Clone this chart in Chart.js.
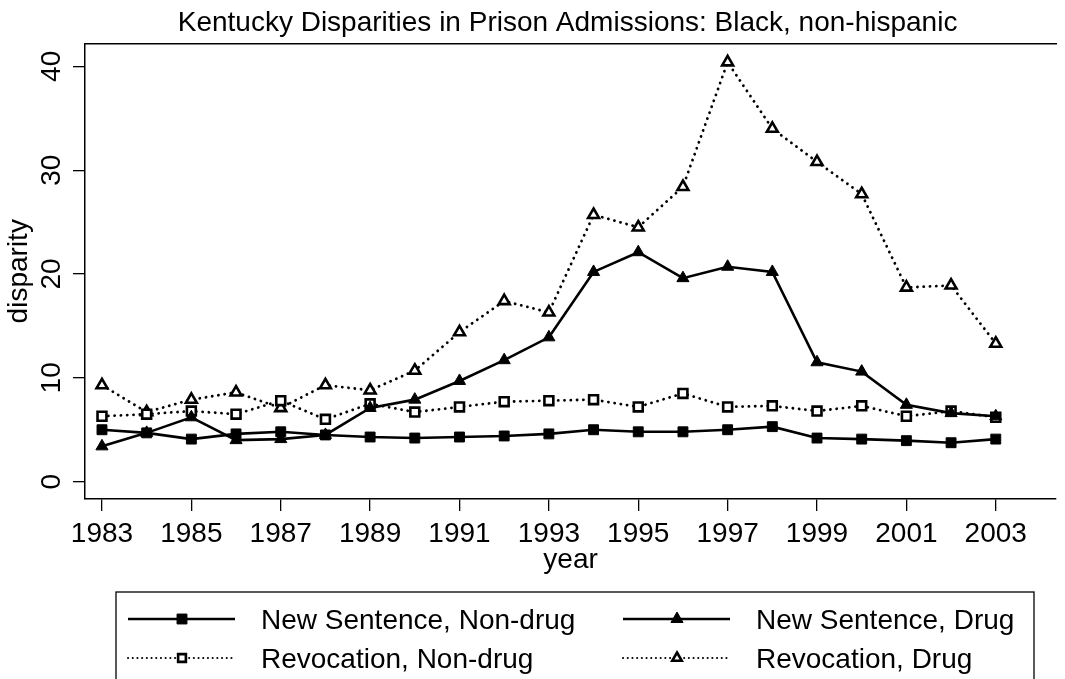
<!DOCTYPE html>
<html>
<head>
<meta charset="utf-8">
<script src="https://cdn.jsdelivr.net/npm/chart.js@4"></script>
<style>
    html, body { margin: 0; padding: 0; background: #fff; }
    #wrap { width: 1065px; height: 679px; }
</style>
</head>
<body>
<div id="wrap"><canvas id="chLine" width="1065" height="679"></canvas></div>
<script>
var years = [1983, 1984, 1985, 1986, 1987, 1988, 1989, 1990, 1991, 1992, 1993,
             1994, 1995, 1996, 1997, 1998, 1999, 2000, 2001, 2002, 2003];
var newNonDrug = [5.0, 4.7, 4.1, 4.6, 4.8, 4.5, 4.3, 4.2, 4.3, 4.4, 4.6,
                  5.0, 4.8, 4.8, 5.0, 5.3, 4.2, 4.1, 3.95, 3.75, 4.1];
var newDrug = [3.4, 4.7, 6.2, 4.0, 4.1, 4.5, 7.1, 7.9, 9.7, 11.7, 13.9,
               20.2, 22.1, 19.6, 20.7, 20.2, 11.5, 10.6, 7.4, 6.6, 6.3];
var revNonDrug = [6.3, 6.5, 6.8, 6.5, 7.8, 6.0, 7.5, 6.7, 7.2, 7.7, 7.8,
                  7.9, 7.2, 8.5, 7.2, 7.3, 6.8, 7.3, 6.3, 6.8, 6.2];
var revDrug = [9.3, 6.7, 7.9, 8.6, 7.1, 9.3, 8.8, 10.7, 14.4, 17.4, 16.3,
               25.7, 24.5, 28.4, 40.4, 34.0, 30.8, 27.7, 18.7, 18.9, 13.3];

var xTicks = [1983, 1985, 1987, 1989, 1991, 1993, 1995, 1997, 1999, 2001, 2003];
var yTicks = [0, 10, 20, 30, 40];

var chartTitle = 'Kentucky Disparities in Prison Admissions: Black, non-hispanic';
var seriesNames = ['New Sentence, Non-drug', 'New Sentence, Drug', 'Revocation, Non-drug', 'Revocation, Drug'];

var FONT = 'Liberation Sans, Arial, Helvetica, sans-serif';
var FSIZE = 28;

function pts(arr) {
    return years.map(function (yr, i) { return { x: yr, y: arr[i] }; });
}

function series(label, arr, style, filled, dotted) {
    return {
        label: label,
        data: pts(arr),
        borderColor: '#000',
        borderWidth: dotted ? 2.8 : 2.6,
        borderDash: dotted ? [0.1, 6.2] : [],
        borderCapStyle: dotted ? 'round' : 'butt',
        pointStyle: style,
        pointRadius: filled ? 7 : 6.3,
        pointBorderWidth: filled ? 1 : 2.6,
        pointBorderColor: '#000',
        pointBackgroundColor: filled ? '#000' : '#fff',
        tension: 0,
        fill: false
    };
}

// title + legend box drawn on the canvas
var extras = {
    id: 'extras',
    afterDraw: function (chart) {
        var ctx = chart.ctx;
        var area = chart.chartArea;
        ctx.save();
        ctx.fillStyle = '#000';
        ctx.font = FSIZE + 'px ' + FONT;
        ctx.textAlign = 'center';
        ctx.textBaseline = 'middle';
        ctx.fillText(chartTitle, (area.left + area.right) / 2 - 3, 23.6);

        // legend frame
        ctx.strokeStyle = '#000';
        ctx.lineWidth = 1.3;
        ctx.strokeRect(116, 592, 918, 100);

        var cols = [128, 623];
        var rows = [619, 658];
        chart.data.datasets.forEach(function (ds, i) {
            var x0 = cols[i % 2], y0 = rows[Math.floor(i / 2)];
            var dotted = ds.borderDash.length > 0;
            ctx.save();
            ctx.strokeStyle = '#000';
            ctx.lineWidth = dotted ? 2 : 2.6;
            ctx.lineCap = dotted ? 'round' : 'butt';
            ctx.setLineDash(dotted ? [0.1, 4.6] : []);
            ctx.beginPath();
            ctx.moveTo(x0, y0);
            ctx.lineTo(x0 + 107, y0);
            ctx.stroke();
            ctx.restore();

            ctx.save();
            ctx.fillStyle = ds.pointBackgroundColor;
            ctx.strokeStyle = '#000';
            ctx.lineWidth = ds.pointBorderWidth;
            Chart.helpers.drawPoint(ctx, {
                pointStyle: ds.pointStyle,
                radius: dotted ? 5.5 : 7,
                borderWidth: ds.pointBorderWidth
            }, x0 + 54, y0);
            ctx.restore();

            ctx.fillStyle = '#000';
            ctx.textAlign = 'left';
            ctx.textBaseline = 'middle';
            ctx.font = FSIZE + 'px ' + FONT;
            ctx.fillText(ds.label, x0 + 133, y0 + 2);
        });
        ctx.restore();
    }
};

var chLine = document.getElementById('chLine');
new Chart(chLine, {
    type: 'line',
    data: {
        datasets: [
            series(seriesNames[0], newNonDrug, 'rect', true, false),
            series(seriesNames[1], newDrug, 'triangle', true, false),
            series(seriesNames[2], revNonDrug, 'rect', false, true),
            series(seriesNames[3], revDrug, 'triangle', false, true)
        ]
    },
    options: {
        responsive: false,
        animation: false,
        layout: { padding: { top: 43.5, bottom: 102, left: 0, right: 0 } },
        plugins: {
            legend: { display: false },
            title: { display: false },
            tooltip: { enabled: false }
        },
        scales: {
            x: {
                type: 'linear',
                position: 'bottom',
                min: 1982.62,
                max: 2004.35,
                afterBuildTicks: function (scale) {
                    scale.ticks = xTicks.map(function (v) { return { value: v }; });
                },
                afterFit: function (scale) { scale.height = 78; },
                border: { display: true, color: '#000', width: 1.5 },
                grid: { drawOnChartArea: false, drawTicks: true, tickLength: 12, tickColor: '#000', lineWidth: 1.3 },
                ticks: {
                    padding: 6,
                    color: '#000',
                    maxRotation: 0,
                    autoSkip: false,
                    font: { family: FONT, size: FSIZE },
                    callback: function (v) { return String(v); }
                },
                title: {
                    display: true,
                    text: 'year',
                    color: '#000',
                    padding: 0,
                    font: { family: FONT, size: FSIZE }
                }
            },
            x2: {
                type: 'linear',
                position: 'top',
                min: 1982.62,
                max: 2004.35,
                afterFit: function (scale) { scale.height = 0; },
                border: { display: true, color: '#000', width: 1.5 },
                grid: { display: false },
                ticks: { display: false }
            },
            y: {
                type: 'linear',
                position: 'left',
                min: -1.67,
                max: 42.2,
                afterBuildTicks: function (scale) {
                    scale.ticks = yTicks.map(function (v) { return { value: v }; });
                },
                afterFit: function (scale) { scale.width = 85; },
                border: { display: true, color: '#000', width: 1.5 },
                grid: { drawOnChartArea: false, drawTicks: true, tickLength: 12, tickColor: '#000', lineWidth: 1.3 },
                ticks: {
                    padding: 5,
                    color: '#000',
                    minRotation: 90,
                    maxRotation: 90,
                    crossAlign: 'center',
                    font: { family: FONT, size: FSIZE }
                },
                title: {
                    display: true,
                    text: 'disparity',
                    color: '#000',
                    padding: { top: 2, bottom: 0 },
                    font: { family: FONT, size: FSIZE }
                }
            }
        }
    },
    plugins: [extras]
});
</script>
</body>
</html>
